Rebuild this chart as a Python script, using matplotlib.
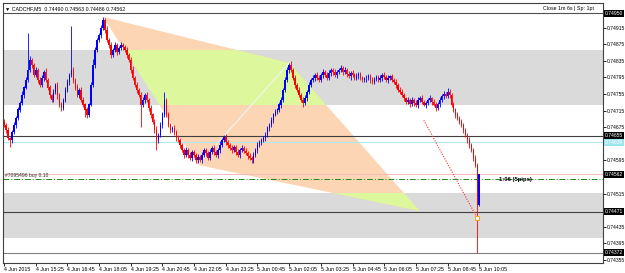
import matplotlib
matplotlib.use('Agg')
import matplotlib.pyplot as plt
import matplotlib.transforms as mtransforms
from matplotlib.patches import Polygon, Rectangle
import numpy as np

plt.rcParams['font.family'] = ['Liberation Sans', 'DejaVu Sans']

# prices are in points (0.00001) above 0.74000
base = 0.74

first_open = 688
closes = [
    680, 668, 649, 644, 663, 680, 697, 717, 733, 753,
    770, 789, 813, 837, 825, 801, 813, 789, 777, 794,
    808, 789, 770, 753, 741, 760, 777, 753, 729, 721,
    741, 765, 784, 801, 813, 789, 770, 753, 765, 741,
    729, 717, 705, 729, 777, 825, 861, 885, 897, 914,
    933, 909, 885, 873, 849, 861, 873, 856, 866, 873,
    868, 861, 849, 837, 813, 794, 777, 765, 753, 729,
    741, 753, 741, 721, 705, 688, 668, 644, 656, 680,
    705, 741, 705, 680, 668, 673, 663, 649, 644, 632,
    620, 608, 620, 608, 601, 615, 608, 596, 603, 596,
    608, 620, 613, 601, 615, 625, 615, 608, 620, 632,
    644, 651, 639, 632, 625, 620, 627, 615, 608, 620,
    625, 618, 613, 606, 601, 596, 608, 620, 632, 639,
    644, 649, 656, 673, 680, 692, 705, 712, 717, 729,
    741, 765, 789, 813, 825, 813, 794, 777, 765, 753,
    741, 733, 745, 760, 777, 789, 794, 801, 794, 789,
    801, 808, 801, 794, 806, 813, 808, 801, 808, 813,
    818, 808, 813, 803, 798, 806, 801, 794, 798, 803,
    794, 789, 793, 794, 798, 789, 784, 791, 796, 789,
    794, 801, 796, 789, 794, 798, 789, 784, 777, 765,
    760, 753, 745, 736, 741, 731, 741, 733, 729, 741,
    745, 736, 729, 733, 741, 745, 736, 729, 721, 731,
    741, 750, 755, 750, 760, 753, 729, 717, 705, 697,
    688, 680, 668, 656, 644, 632, 620, 601, 584, 488,
    562,
]
wick_hi = [
    6, 4, 8, 3, 5, 7, 4, 6, 5, 9,
    4, 7, 89, 10, 6, 5, 8, 4, 6, 7,
    5, 9, 4, 6, 3, 8, 5, 7, 4, 6,
    5, 6, 8, 4, 106, 7, 5, 9, 4, 6,
    8, 5, 7, 4, 6, 15, 8, 5, 6, 7,
    8, 6, 9, 5, 7, 4, 8, 6, 5, 7,
    4, 6, 8, 5, 7, 9, 4, 6, 5, 8,
    6, 4, 7, 5, 8, 4, 6, 9, 5, 7,
    6, 19, 5, 7, 4, 6, 8, 5, 7, 4,
    6, 5, 8, 4, 7, 5, 6, 4, 8, 5,
    7, 4, 6, 5, 8, 4, 7, 6, 5, 9,
    4, 6, 7, 5, 4, 8, 5, 6, 7, 4,
    6, 5, 8, 4, 6, 5, 7, 4, 8, 5,
    6, 4, 7, 5, 6, 8, 4, 7, 5, 6,
    8, 5, 7, 6, 5, 9, 4, 6, 5, 7,
    4, 6, 8, 5, 6, 4, 7, 5, 8, 6,
    5, 7, 4, 6, 8, 5, 4, 7, 6, 5,
    6, 4, 8, 5, 7, 4, 6, 5, 8, 4,
    6, 5, 4, 7, 5, 6, 8, 4, 6, 5,
    7, 4, 6, 5, 8, 4, 6, 5, 7, 4,
    6, 8, 5, 4, 7, 5, 6, 4, 8, 6,
    5, 7, 4, 6, 5, 8, 4, 6, 7, 5,
    6, 4, 8, 5, 9, 6, 5, 7, 4, 6,
    5, 7, 4, 6, 5, 8, 6, 5, 7, 6,
    1,
]
wick_lo = [
    5, 7, 4, 17, 6, 5, 8, 4, 6, 5,
    7, 4, 6, 5, 8, 6, 4, 7, 5, 6,
    8, 4, 6, 7, 5, 4, 6, 9, 5, 7,
    4, 6, 5, 7, 4, 8, 6, 5, 7, 4,
    6, 17, 8, 5, 4, 6, 7, 5, 4, 6,
    5, 7, 4, 8, 6, 5, 4, 7, 5, 6,
    7, 4, 6, 5, 8, 4, 6, 7, 5, 53,
    5, 7, 4, 6, 8, 5, 7, 24, 6, 4,
    7, 5, 6, 4, 8, 5, 6, 7, 4, 6,
    5, 8, 4, 6, 5, 7, 4, 6, 8, 5,
    6, 4, 7, 5, 6, 4, 8, 5, 6, 7,
    5, 4, 6, 8, 5, 7, 4, 6, 5, 8,
    4, 6, 5, 7, 4, 7, 6, 5, 8, 4,
    6, 5, 7, 4, 6, 5, 8, 4, 6, 5,
    7, 4, 6, 5, 8, 4, 6, 7, 5, 4,
    6, 9, 5, 7, 4, 6, 5, 8, 4, 6,
    5, 7, 4, 6, 5, 8, 6, 4, 7, 5,
    4, 6, 5, 7, 4, 8, 5, 6, 4, 7,
    5, 4, 6, 8, 5, 7, 4, 6, 5, 6,
    4, 7, 5, 6, 8, 4, 6, 5, 7, 6,
    5, 4, 7, 6, 5, 8, 4, 6, 5, 7,
    6, 5, 4, 7, 5, 6, 8, 4, 6, 5,
    7, 4, 6, 5, 4, 8, 6, 5, 7, 4,
    6, 5, 8, 4, 7, 6, 5, 8, 6, 116,
    2,
]

time_labels = ['4 Jun 2015', '4 Jun 15:25', '4 Jun 16:45', '4 Jun 18:05', '4 Jun 19:25',
               '4 Jun 20:45', '4 Jun 22:05', '4 Jun 23:25', '5 Jun 00:45', '5 Jun 02:05',
               '5 Jun 03:25', '5 Jun 04:45', '5 Jun 06:05', '5 Jun 07:25', '5 Jun 08:45',
               '5 Jun 10:05']
bars_per_label = 16

# harmonic pattern points X, A, B, D (bar index, points)
pattern_bars = [50, 98, 144, 210]
pattern_prices = [941, 584, 830, 473]

zones = [(729, 861), (408, 516)]

# horizontal levels
level_prices = [950, 655, 639, 562, 471, 372]
level_colors = ['#505050', '#404040', '#aee8ee', '#f4bcbc', '#404040', '#808080']
label_boxes = ['black', 'black', '#9ee6ee', 'black', 'black', 'black']
order_price = 550

# trend line (bar, points)
tl_bars = [212, 239]
tl_prices = [692, 456]

# price scale labels (the ones hidden under the level boxes are left out)
yticks_pts = [355, 395, 435, 515, 595, 675, 715, 755, 795, 835, 875, 915]

# ---------------------------------------------------------------
o = base + np.array([first_open] + closes[:-1]) / 1e5
c = base + np.array(closes) / 1e5
h = np.maximum(o, c) + np.array(wick_hi) / 1e5
l = np.minimum(o, c) - np.array(wick_lo) / 1e5
x = np.arange(len(c))

fig = plt.figure(figsize=(6.25, 2.73), dpi=100)
ax = fig.add_axes([3 / 625, 10 / 273, 600 / 625, 260.5 / 273])
ax.set_xlim(-0.5, 302.5)
ax.set_ylim(base + 347.8 / 1e5, base + 975.6 / 1e5)

for z0, z1 in zones:
    ax.axhspan(base + z0 / 1e5, base + z1 / 1e5, color='#dadada', lw=0, zorder=0.5)

px = pattern_bars
py = [base + p / 1e5 for p in pattern_prices]
quad = [(px[0], py[0]), (px[1], py[1]), (px[3], py[3]), (px[2], py[2])]
ax.add_patch(Polygon(quad, closed=True, fc='#fcd6b4', ec='none', zorder=0.8))
for z0, z1 in zones:
    g = Polygon(quad, closed=True, fc='#dcf79c', ec='none', zorder=0.9)
    ax.add_patch(g)
    clip = Rectangle((-10, base + z0 / 1e5), 400, (z1 - z0) / 1e5, transform=ax.transData)
    g.set_clip_path(clip)
ax.plot([px[1], px[2]], [py[1], py[2]], color='#f4f4f4', lw=0.8, zorder=1)

for lp, lc in zip(level_prices, level_colors):
    ax.axhline(base + lp / 1e5, color=lc, lw=0.8, zorder=1.2)
ax.axhline(base + order_price / 1e5, color='#1a8a1a', lw=0.7, ls=(0, (6, 2, 1, 2)), zorder=1.2)

up = c >= o
col = np.where(up, '#0000ff', '#ff0000')
ax.vlines(x, l, h, colors=col, lw=0.6, zorder=2)
ax.bar(x, np.abs(c - o) + 0.000008, bottom=np.minimum(o, c), width=0.75, color=col, lw=0, zorder=2.1)

ax.plot(tl_bars, [base + p / 1e5 for p in tl_prices], color='#ff3030', lw=0.8, ls=(0, (1, 1.3)), zorder=2.5)
ax.plot(tl_bars[1], base + tl_prices[1] / 1e5, marker='s', ms=2.2, mfc='white', mec='#ff9900', mew=0.6, zorder=2.6)

# frame and axes
for s in ax.spines.values():
    s.set_color('#404040')
    s.set_linewidth(0.8)
ax.yaxis.tick_right()
ax.set_yticks([base + p / 1e5 for p in yticks_pts])
ax.set_yticklabels(['%.5f' % (base + p / 1e5) for p in yticks_pts])
ax.tick_params(axis='y', length=2, width=0.6, pad=1, labelsize=3.6, colors='black')
ticks_x = [i * bars_per_label for i in range(len(time_labels))]
ax.set_xticks(ticks_x)
ax.set_xticklabels(time_labels, ha='left')
ax.tick_params(axis='x', length=2, width=0.6, pad=1, labelsize=3.8)

trans = mtransforms.blended_transform_factory(ax.transAxes, ax.transData)
for lp, bc in zip(level_prices, label_boxes):
    ax.text(1.003, base + lp / 1e5, '%.5f' % (base + lp / 1e5), transform=trans, fontsize=3.6,
            color='white', va='center', ha='left', clip_on=False, zorder=5,
            bbox=dict(boxstyle='square,pad=0.2', fc=bc, ec='none'))

ax.text(0.004, base + order_price / 1e5 + 0.000015, '#7095496 buy 0.10', transform=trans,
        fontsize=3.6, color='#303030', va='bottom', ha='left', zorder=4)
ax.text(250, base + order_price / 1e5, '1:06 (5pips)', fontsize=4.2, fontweight='bold',
        color='black', va='center', ha='left', zorder=4)

ax.text(0.004, 0.985, '\u25bc CADCHF,M5  0.74490 0.74563 0.74486 0.74562', transform=ax.transAxes,
        fontsize=3.8, va='top', ha='left', color='black', zorder=5)
ax.text(0.985, 0.985, 'Close 1m 6s | Sp: 1pt', transform=ax.transAxes,
        fontsize=3.8, va='top', ha='right', color='black', zorder=5)

fig.savefig('out.png', dpi=100)
